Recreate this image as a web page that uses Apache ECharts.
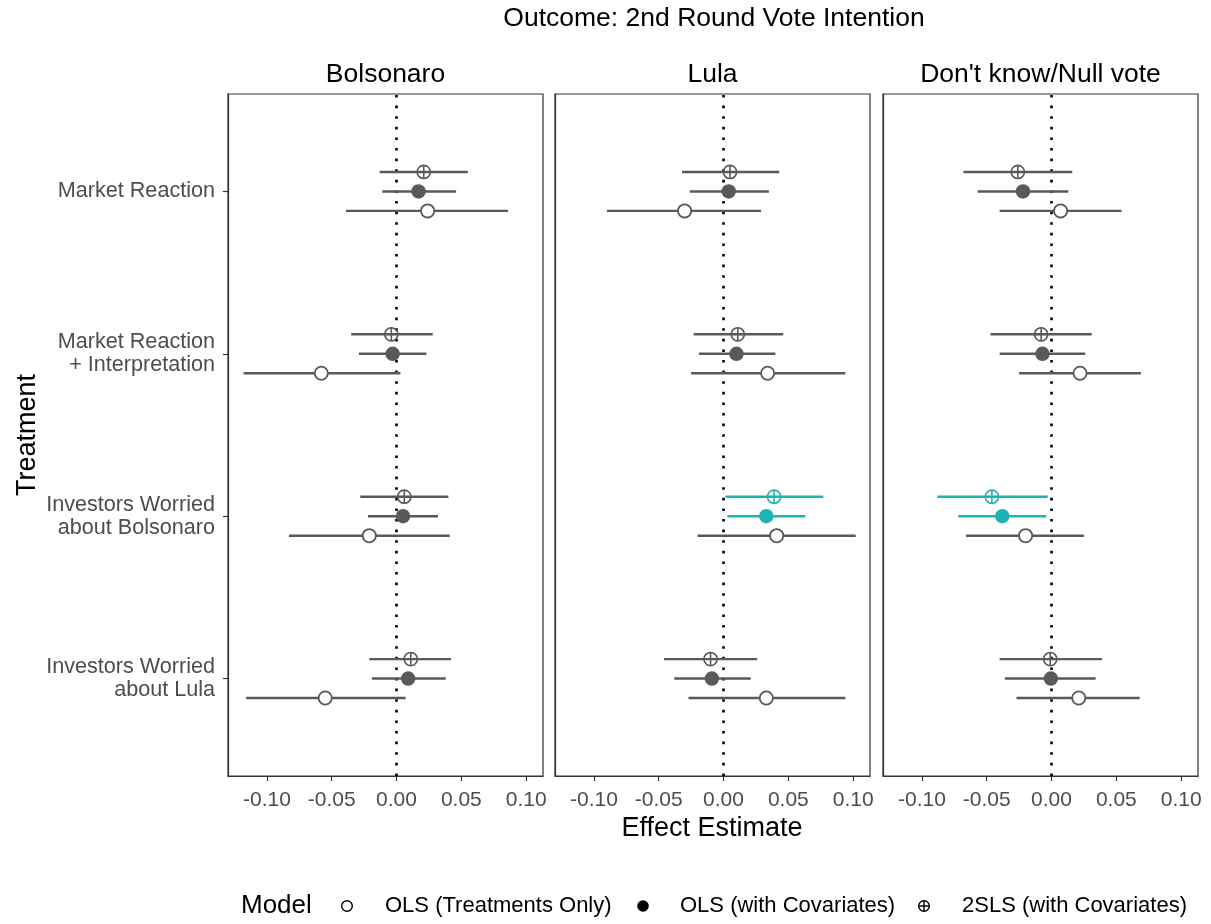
<!DOCTYPE html>
<html>
<head>
<meta charset="utf-8">
<title>Outcome: 2nd Round Vote Intention</title>
<script src="https://cdn.jsdelivr.net/npm/echarts@6/dist/echarts.min.js"></script>
<style>
  html, body { margin: 0; padding: 0; background: #ffffff; }
  #chart { width: 1211px; height: 924px; }
</style>
</head>
<body>
<div id="chart"></div>
<script>
// Treatments, top to bottom
const treatments = [
  'Market Reaction',
  'Market Reaction\n+ Interpretation',
  'Investors Worried\nabout Bolsonaro',
  'Investors Worried\nabout Lula'
];
const outcomes = ['Bolsonaro', 'Lula', "Don't know/Null vote"];
const models = ['OLS (Treatments Only)', 'OLS (with Covariates)', '2SLS (with Covariates)'];
const xTicks = [-0.10, -0.05, 0.00, 0.05, 0.10];
const yTicks = [1, 2, 3, 4];

// Each row: [estimate, lower CI, upper CI], one row per treatment (same order)
const bolsonaroOlsOnly = [[0.024, -0.039, 0.086], [-0.058, -0.118, 0.003], [-0.021, -0.083, 0.041], [-0.055, -0.116, 0.007]];
const bolsonaroOlsCov  = [[0.017, -0.011, 0.046], [-0.003, -0.029, 0.023], [0.005, -0.022, 0.032], [0.009, -0.019, 0.038]];
const bolsonaro2sls    = [[0.021, -0.013, 0.055], [-0.004, -0.035, 0.028], [0.006, -0.028, 0.040], [0.011, -0.021, 0.042]];

const lulaOlsOnly = [[-0.030, -0.090, 0.029], [0.034, -0.025, 0.094], [0.041, -0.020, 0.102], [0.033, -0.027, 0.094]];
const lulaOlsCov  = [[0.004, -0.026, 0.035], [0.010, -0.019, 0.040], [0.033, 0.003, 0.063], [-0.009, -0.038, 0.021]];
const lula2sls    = [[0.005, -0.032, 0.043], [0.011, -0.023, 0.046], [0.039, 0.0015, 0.077], [-0.010, -0.046, 0.026]];

const nullOlsOnly = [[0.007, -0.040, 0.054], [0.022, -0.025, 0.069], [-0.020, -0.066, 0.025], [0.021, -0.027, 0.068]];
const nullOlsCov  = [[-0.022, -0.057, 0.013], [-0.007, -0.040, 0.026], [-0.038, -0.072, -0.004], [-0.0005, -0.036, 0.034]];
const null2sls    = [[-0.026, -0.068, 0.016], [-0.008, -0.047, 0.031], [-0.046, -0.088, -0.003], [-0.001, -0.040, 0.039]];

const GREY = '#595959';
const TEAL = '#1DB3B0';
const FRAME = '#333333';
const FONT = '"Liberation Sans", Arial, Helvetica, sans-serif';

const panelRows = [
  [bolsonaroOlsOnly, bolsonaroOlsCov, bolsonaro2sls],
  [lulaOlsOnly, lulaOlsCov, lula2sls],
  [nullOlsOnly, nullOlsCov, null2sls]
];
const panelLeft = [228, 555, 883];
const panelWidth = 315;
const panelTop = 94;
const panelHeight = 682;
// vertical dodge per model: OLS only below, covariates centred, 2SLS above
const dodge = [-0.12, 0, 0.12];

function renderPointRange(modelIdx) {
  return function (params, api) {
    const est = api.value(0), lo = api.value(1), hi = api.value(2), yv = api.value(3);
    const p = api.coord([est, yv]);
    const a = api.coord([lo, yv]);
    const b = api.coord([hi, yv]);
    const col = (lo > 0 || hi < 0) ? TEAL : GREY;
    const children = [{
      type: 'line',
      shape: { x1: a[0], y1: a[1], x2: b[0], y2: b[1] },
      style: { stroke: col, lineWidth: 2.4 }
    }];
    if (modelIdx === 0) {
      children.push({ type: 'circle', shape: { cx: p[0], cy: p[1], r: 6.6 },
        style: { fill: '#ffffff', stroke: col, lineWidth: 1.8 } });
    } else if (modelIdx === 1) {
      children.push({ type: 'circle', shape: { cx: p[0], cy: p[1], r: 7.2 },
        style: { fill: col } });
    } else {
      const r = 6.6;
      children.push({ type: 'circle', shape: { cx: p[0], cy: p[1], r: r },
        style: { fill: 'none', stroke: col, lineWidth: 1.6 } });
      children.push({ type: 'line', shape: { x1: p[0] - r, y1: p[1], x2: p[0] + r, y2: p[1] },
        style: { stroke: col, lineWidth: 1.6 } });
      children.push({ type: 'line', shape: { x1: p[0], y1: p[1] - r, x2: p[0], y2: p[1] + r },
        style: { stroke: col, lineWidth: 1.6 } });
    }
    return { type: 'group', children: children };
  };
}

const grids = [], xAxes = [], yAxes = [], series = [];
for (let k = 0; k < 3; k++) {
  grids.push({
    left: panelLeft[k], top: panelTop, width: panelWidth, height: panelHeight,
    show: true, borderColor: FRAME, borderWidth: 1.2, backgroundColor: '#ffffff'
  });
  xAxes.push({
    gridIndex: k, type: 'value', min: -0.13, max: 0.113,
    axisLine: { show: true, onZero: false, lineStyle: { color: FRAME, width: 1.2 } },
    splitLine: { show: false },
    axisTick: { show: true, customValues: xTicks, length: 5, lineStyle: { color: FRAME, width: 1.2 } },
    axisLabel: { customValues: xTicks, formatter: v => v.toFixed(2), color: '#4D4D4D',
      fontSize: 21, fontFamily: FONT, margin: 14 }
  });
  yAxes.push({
    gridIndex: k, type: 'value', min: 0.4, max: 4.6,
    axisLine: { show: true, onZero: false, lineStyle: { color: FRAME, width: 1.2 } },
    splitLine: { show: false },
    axisTick: { show: k === 0, customValues: yTicks, length: 5, lineStyle: { color: FRAME, width: 1.2 } },
    axisLabel: { show: k === 0, customValues: yTicks, formatter: v => treatments[4 - v],
      color: '#4D4D4D', fontSize: 21.6, lineHeight: 23, fontFamily: FONT, margin: 13 }
  });
  for (let m = 0; m < 3; m++) {
    const rows = panelRows[k][m];
    const s = {
      type: 'custom',
      name: models[m],
      xAxisIndex: k, yAxisIndex: k,
      renderItem: renderPointRange(m),
      data: rows.map((r, i) => [r[0], r[1], r[2], 4 - i + dodge[m]]),
      encode: { x: [0, 1, 2], y: 3 },
      clip: false,
      z: 3,
      silent: true
    };
    if (m === 0) {
      // dotted reference line at zero effect
      s.markLine = {
        silent: true, symbol: 'none', label: { show: false },
        lineStyle: { color: '#000000', type: [2.6, 8], width: 2.6 },
        data: [{ xAxis: 0 }],
        z: 2
      };
    }
    series.push(s);
  }
}

// Legend drawn as plain graphics
const legendY = 906;
const legendItems = [
  { sym: 0, sx: 347, tx: 385 },
  { sym: 1, sx: 643, tx: 680 },
  { sym: 2, sx: 924, tx: 962 }
];
const legendGraphics = [{
  type: 'text', x: 241, y: legendY,
  style: { text: 'Model', font: '26px ' + FONT, fill: '#000000', align: 'left', verticalAlign: 'middle',
    textAlign: 'left', textVerticalAlign: 'middle' }
}];
legendItems.forEach((it, i) => {
  const r = 5.3;
  if (it.sym === 0) {
    legendGraphics.push({ type: 'circle', shape: { cx: it.sx, cy: legendY, r: r },
      style: { fill: '#ffffff', stroke: '#000000', lineWidth: 1.4 } });
  } else if (it.sym === 1) {
    legendGraphics.push({ type: 'circle', shape: { cx: it.sx, cy: legendY, r: 5.8 }, style: { fill: '#000000' } });
  } else {
    legendGraphics.push({ type: 'circle', shape: { cx: it.sx, cy: legendY, r: r },
      style: { fill: 'none', stroke: '#000000', lineWidth: 1.4 } });
    legendGraphics.push({ type: 'line', shape: { x1: it.sx - r, y1: legendY, x2: it.sx + r, y2: legendY },
      style: { stroke: '#000000', lineWidth: 1.4 } });
    legendGraphics.push({ type: 'line', shape: { x1: it.sx, y1: legendY - r, x2: it.sx, y2: legendY + r },
      style: { stroke: '#000000', lineWidth: 1.4 } });
  }
  legendGraphics.push({ type: 'text', x: it.tx, y: legendY,
    style: { text: models[i], font: '22px ' + FONT, fill: '#000000', align: 'left', verticalAlign: 'middle',
      textAlign: 'left', textVerticalAlign: 'middle' } });
});

function centeredText(text, x, y, size, extra) {
  return Object.assign({
    type: 'text', x: x, y: y,
    style: { text: text, font: size + 'px ' + FONT, fill: '#000000', align: 'center', verticalAlign: 'middle',
      textAlign: 'center', textVerticalAlign: 'middle' }
  }, extra || {});
}

const textGraphics = [
  centeredText('Outcome: 2nd Round Vote Intention', 714, 19, 26.5),
  centeredText(outcomes[0], panelLeft[0] + panelWidth / 2, 75, 26.5),
  centeredText(outcomes[1], panelLeft[1] + panelWidth / 2, 75, 26.5),
  centeredText(outcomes[2], panelLeft[2] + panelWidth / 2, 75, 26.5),
  centeredText('Effect Estimate', 712, 829, 27),
  centeredText('Treatment', 28, panelTop + panelHeight / 2, 27, { rotation: Math.PI / 2 })
];

const chart = echarts.init(document.getElementById('chart'), null, { renderer: 'canvas' });
chart.setOption({
  backgroundColor: '#ffffff',
  animation: false,
  grid: grids,
  xAxis: xAxes,
  yAxis: yAxes,
  series: series,
  graphic: textGraphics.concat(legendGraphics)
});
</script>
</body>
</html>
